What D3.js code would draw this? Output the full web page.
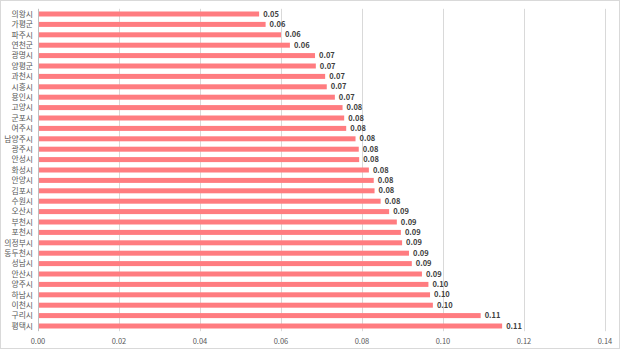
<!DOCTYPE html>
<html><head><meta charset="utf-8">
<script src="https://cdn.jsdelivr.net/npm/d3@7"></script>
<style>
html,body{margin:0;padding:0;background:#fff;}
svg{display:block;font-family:"Noto Sans CJK KR","Noto Sans",sans-serif;}
</style></head>
<body>
<script>
const categories = ["의왕시","가평군","파주시","연천군","광명시","양평군","과천시","시흥시","용인시","고양시","군포시","여주시","남양주시","광주시","안성시","화성시","안양시","김포시","수원시","오산시","부천시","포천시","의정부시","동두천시","성남시","안산시","양주시","하남시","이천시","구리시","평택시"];
const values = [0.0546,0.0562,0.0600,0.0622,0.0684,0.0686,0.0709,0.0713,0.0733,0.0752,0.0756,0.0761,0.0784,0.0792,0.0793,0.0817,0.0829,0.0831,0.0846,0.0867,0.0886,0.0896,0.0899,0.0916,0.0923,0.0948,0.0964,0.0968,0.0975,0.1093,0.1146];
const xTicks = [0,0.02,0.04,0.06,0.08,0.10,0.12,0.14];

const W = 621, H = 350;
const svg = d3.select("body").append("svg").attr("width", W).attr("height", H);

// outer frame
svg.append("rect").attr("x",0.5).attr("y",0.5).attr("width",W-2).attr("height",H-2)
  .attr("fill","#fff").attr("stroke","#d9d9d9");

const x = d3.scaleLinear().domain([0,0.14]).range([38,605]);
const y = d3.scaleBand().domain(categories).range([8.8,331.2]).paddingInner(0.5).paddingOuter(0.25);

// gridlines
svg.append("g").selectAll("line").data(xTicks.slice(1)).join("line")
  .attr("x1",d=>Math.round(x(d))+0.5).attr("x2",d=>Math.round(x(d))+0.5)
  .attr("y1",8.8).attr("y2",331.2).attr("stroke","#d9d9d9").attr("stroke-width",1);

// bars
const bh = 5;
svg.append("g").selectAll("rect").data(categories).join("rect")
  .attr("x",x(0)).attr("y",(d)=>y(d)+y.bandwidth()/2-bh/2)
  .attr("width",(d,i)=>x(values[i])-x(0)).attr("height",bh)
  .attr("fill","#ff7c80");

// axis line
svg.append("line").attr("x1",38.5).attr("x2",38.5).attr("y1",8.8).attr("y2",331.2)
  .attr("stroke","#bfbfbf");

// category labels
svg.append("g").selectAll("text").data(categories).join("text")
  .attr("x",33).attr("y",d=>y(d)+y.bandwidth()/2).attr("dy","0.35em")
  .attr("text-anchor","end").attr("font-size",7.8).attr("fill","#595959").text(d=>d);

// value labels
svg.append("g").selectAll("text").data(categories).join("text")
  .attr("x",(d,i)=>x(values[i])+4).attr("y",d=>y(d)+y.bandwidth()/2).attr("dy","0.35em")
  .attr("font-size",7.5).attr("font-weight","bold").attr("fill","#404040")
  .text((d,i)=>values[i].toFixed(2));

// x tick labels
svg.append("g").selectAll("text").data(xTicks).join("text")
  .attr("x",d=>x(d)).attr("y",341).attr("dy","0.35em").attr("text-anchor","middle")
  .attr("font-size",7.5).attr("fill","#595959").text(d=>d.toFixed(2));
</script>
</body></html>
